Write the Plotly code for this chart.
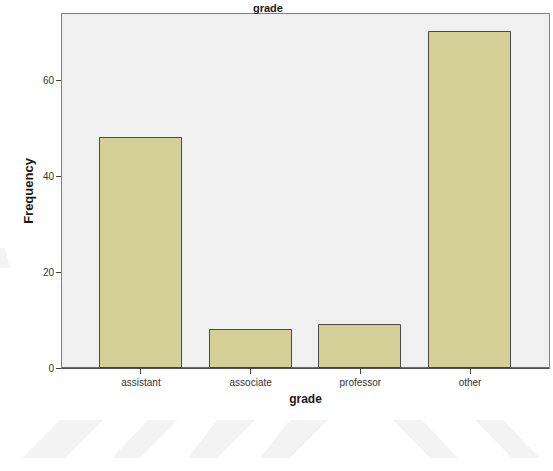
import plotly.graph_objects as go

categories = ["assistant", "associate", "professor", "other"]
frequency = [48, 8, 9, 70]
y_ticks = [0, 20, 40, 60]

fig = go.Figure()
fig.add_trace(go.Bar(
    x=categories, y=frequency, width=0.745,
    marker=dict(color="#D3CF97", line=dict(color="#4a4a4a", width=1)),
))

# faint watermark stripes (pixel positions mapped to plot-domain paper coords)
L, R, T, B = 62, 549, 14, 368
def px(x): return (x - L) / (R - L)
def py(y): return (B - y) / (B - T)
stripes = [
    [(60, 420), (103, 420), (65, 458), (22, 458)],
    [(148, 420), (178, 420), (140, 458), (112, 458)],
    [(217, 420), (255, 420), (217, 458), (188, 458)],
    [(290, 420), (328, 420), (290, 458), (260, 458)],
    [(393, 420), (422, 420), (458, 458), (430, 458)],
    [(475, 420), (503, 420), (540, 458), (512, 458)],
    [(0, 248), (5, 248), (10, 268), (0, 268)],
]
shapes = []
for s in stripes:
    path = "M " + " L ".join(f"{px(x):.4f},{py(y):.4f}" for x, y in s) + " Z"
    shapes.append(dict(type="path", xref="paper", yref="paper", path=path,
                       fillcolor="#f3f3f3", line=dict(width=0), layer="below"))

fig.update_layout(
    width=553, height=471,
    margin=dict(l=62, r=4, t=14, b=103),
    paper_bgcolor="white", plot_bgcolor="#F0F0F0",
    showlegend=False,
    font=dict(family="Liberation Sans, Arial, sans-serif", color="#333333"),
    bargap=0,
    shapes=shapes,
)
fig.update_xaxes(
    range=[-0.72, 3.72], showgrid=False, zeroline=False,
    showline=True, linecolor="#808080", linewidth=1, mirror=True,
    ticks="outside", ticklen=5, tickcolor="#404040", tickfont=dict(size=10, color="#333333"),
    title=dict(text="<b>grade</b>", font=dict(size=12, color="#1a1a1a"), standoff=7),
)
fig.update_yaxes(
    range=[0, 73.75], showgrid=False, zeroline=False,
    showline=True, linecolor="#808080", linewidth=1, mirror=True,
    tickvals=y_ticks, ticks="outside", ticklen=5, tickcolor="#404040",
    tickfont=dict(size=10, color="#333333"),
    title=dict(text="<b>Frequency</b>", font=dict(size=13, color="#1a1a1a"), standoff=6),
)
# darker baseline
fig.add_shape(type="line", xref="paper", yref="paper", x0=0, x1=1, y0=0, y1=0,
              line=dict(color="#404040", width=1.5))
fig.add_annotation(text="<b>grade</b>", xref="paper", yref="paper",
                   x=px(268), y=py(0), yanchor="top",
                   showarrow=False, font=dict(size=11, color="#1a1a1a"))

fig.write_html("out.html")
